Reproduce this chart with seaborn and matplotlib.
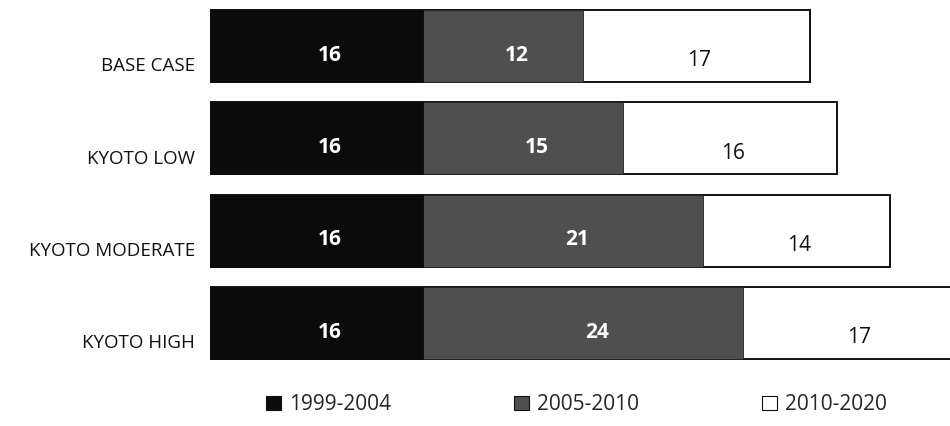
import matplotlib
matplotlib.use("Agg")
import matplotlib.pyplot as plt
from matplotlib.patches import Patch
import numpy as np
import pandas as pd
import seaborn as sns

# Scenario data (values in each period)
scenarios = ["BASE CASE", "KYOTO LOW", "KYOTO MODERATE", "KYOTO HIGH"]
periods = ["1999-2004", "2005-2010", "2010-2020"]
p1999_2004 = [16, 16, 16, 16]
p2005_2010 = [12, 15, 21, 24]
p2010_2020 = [17, 16, 14, 17]

colors = ["#0b0b0b", "#4f4f4f", "#ffffff"]

sns.set_theme(style="white")
plt.rcParams["font.family"] = ["Open Sans", "DejaVu Sans"]

df = pd.DataFrame({
    "scenario": scenarios,
    "a": p1999_2004,
    "b": p2005_2010,
    "c": p2010_2020,
})
df["cum1"] = df["a"]
df["cum2"] = df["a"] + df["b"]
df["cum3"] = df["a"] + df["b"] + df["c"]

fig = plt.figure(figsize=(9.5, 4.26), dpi=100)
ax = fig.add_axes([210 / 950, 1 - 370 / 426, 1 - 210 / 950, 370 / 426])

bw = 0.78
# layered cumulative bars: longest first
sns.barplot(data=df, x="cum3", y="scenario", orient="h", color=colors[2],
            edgecolor="#111111", linewidth=1.4, width=bw, ax=ax, saturation=1)
sns.barplot(data=df, x="cum2", y="scenario", orient="h", color=colors[1],
            edgecolor="#222222", linewidth=0.6, width=bw, ax=ax, saturation=1)
sns.barplot(data=df, x="cum1", y="scenario", orient="h", color=colors[0],
            edgecolor="#0b0b0b", linewidth=0.6, width=bw, ax=ax, saturation=1)

ax.set_xlim(0, 55.5)
ax.set_ylim(3.509, -0.498)
ax.set_xlabel("")
ax.set_ylabel("")
ax.set_xticks([])
ax.set_yticks([])
for s in ax.spines.values():
    s.set_visible(False)

# category labels, sitting toward the lower part of each bar
for i, name in enumerate(scenarios):
    ax.text(-1.1, i + 0.22, name, ha="right", va="center", fontsize=13.5,
            color="#111111", clip_on=False)

# value labels in each segment
for i in range(len(scenarios)):
    starts = [0, df["cum1"][i], df["cum2"][i]]
    vals = [df["a"][i], df["b"][i], df["c"][i]]
    for j, (s0, v) in enumerate(zip(starts, vals)):
        if j < 2:
            ax.text(s0 + v / 2 + 1.0, i + 0.1, str(v), ha="center", va="center",
                    fontsize=15, fontweight="bold", color="white")
        else:
            ax.text(s0 + v / 2 + 0.2, i + 0.16, str(v), ha="center", va="center",
                    fontsize=15, color="#111111")

handles = [Patch(facecolor=c, edgecolor="#111111", linewidth=0.8) for c in colors]
fig.legend(handles, periods, loc="center", bbox_to_anchor=(0.607, 0.05),
           ncol=3, frameon=False, fontsize=15, handlelength=0.7,
           handleheight=0.7, handletextpad=0.4, columnspacing=5.9)

fig.savefig("out.png", dpi=100)
